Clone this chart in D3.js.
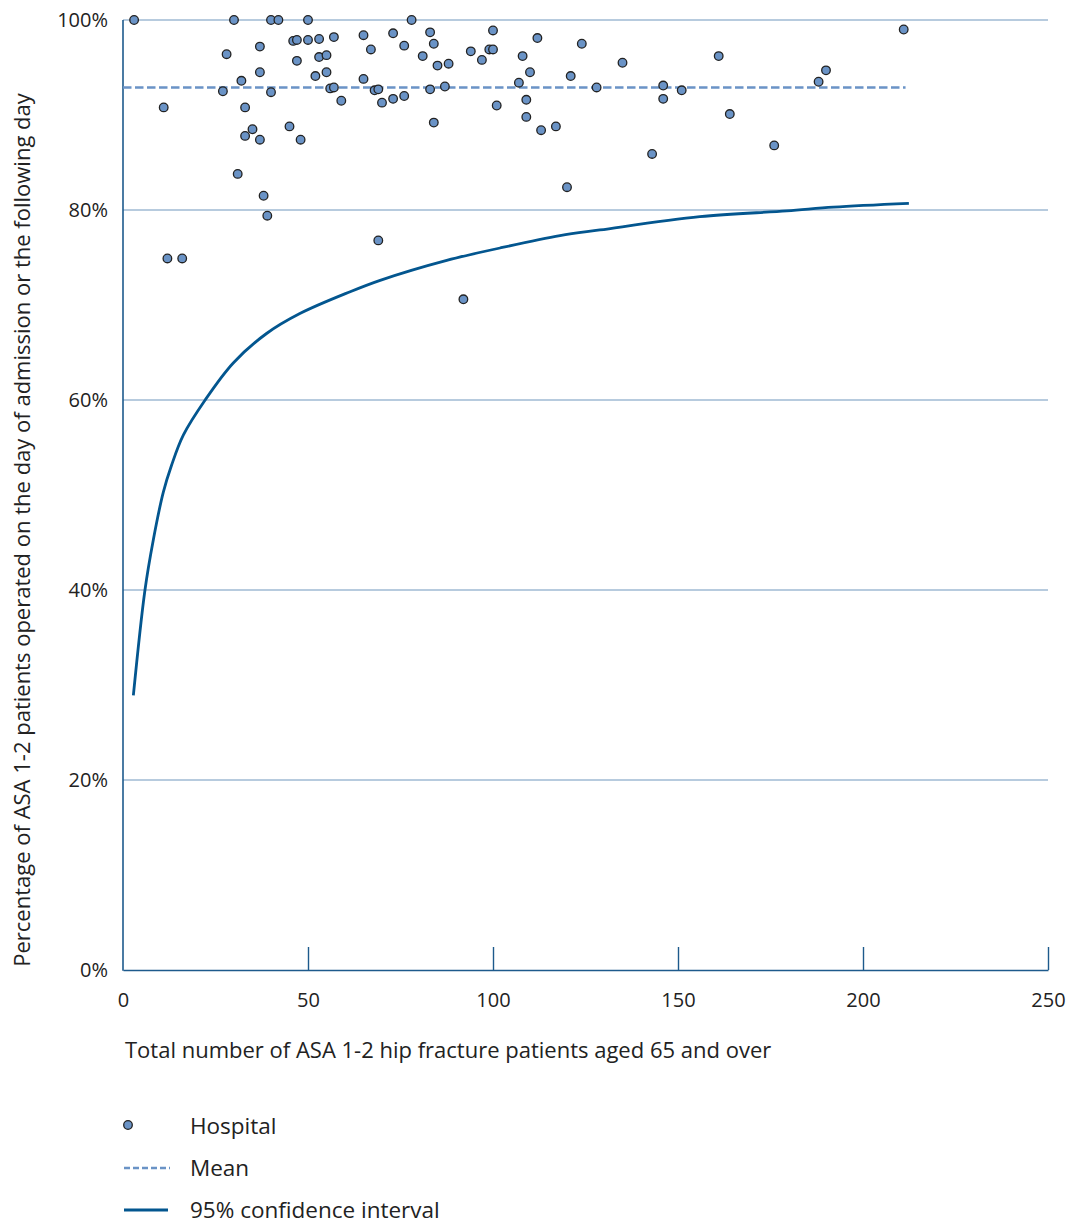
<!DOCTYPE html>
<html>
<head>
<meta charset="utf-8">
<script src="https://cdn.jsdelivr.net/npm/d3@7"></script>
<style>
  html, body { margin: 0; padding: 0; background: #fff; }
  svg { display: block; }
  text { font-family: "Open Sans", "Noto Sans", sans-serif; fill: #222; }
</style>
</head>
<body>
<svg id="chart" width="1074" height="1225"></svg>
<script>
// ---- data ----
const hospitalN = [3,30,40,42,50,78,46,47,50,53,57,37,28,47,53,55,37,32,52,55,27,40,56,57,59,11,33,35,45,33,37,48,31,38,39,12,16,
  65,73,83,100,67,76,84,81,94,99,100,112,124,97,108,85,88,110,121,65,107,68,69,83,87,70,73,76,101,109,109,84,113,117,120,69,92,
  128,135,146,146,151,143,161,164,176,188,190,211];
const hospitalPct = [100,100,100,100,100,100,97.8,97.9,97.9,98.0,98.2,97.2,96.4,95.7,96.1,96.3,94.5,93.6,94.1,94.5,92.5,92.4,92.8,92.9,91.5,90.8,90.8,88.5,88.8,87.8,87.4,87.4,83.8,81.5,79.4,74.9,74.9,
  98.4,98.6,98.7,98.9,96.9,97.3,97.5,96.2,96.7,96.9,96.9,98.1,97.5,95.8,96.2,95.2,95.4,94.5,94.1,93.8,93.4,92.6,92.7,92.7,93.0,91.3,91.7,92.0,91.0,91.6,89.8,89.2,88.4,88.8,82.4,76.8,70.6,
  92.9,95.5,93.1,91.7,92.6,85.9,96.2,90.1,86.8,93.5,94.7,99.0];
const ciN   = [2.8,5.9,8.2,10.9,13.1,16.3,22.2,29.8,38.8,47.8,61.4,69.5,87.5,101.9,118.1,128.9,155.9,179.4,192,212.4];
const ciPct = [28.9,39.9,45.3,50.3,53.1,56.3,60.0,63.9,67.0,69.1,71.4,72.6,74.7,76.0,77.3,77.9,79.3,79.9,80.3,80.7];
const meanPct = 92.9;
const meanRange = [0, 211.5];
const xTicks = [0,50,100,150,200,250];
const yTicks = [0,20,40,60,80,100];
const xTitle = "Total number of ASA 1-2 hip fracture patients aged 65 and over";
const yTitle = "Percentage of ASA 1-2 patients operated on the day of admission or the following day";
const legendLabels = ["Hospital", "Mean", "95% confidence interval"];

(function () {
  const svg = d3.select("#chart");
  const pL = 123, pR = 1048, pT = 20, pB = 970;
  const x = d3.scaleLinear().domain([0,250]).range([pL,pR]);
  const y = d3.scaleLinear().domain([0,100]).range([pB,pT]);

  const gridColor = "#7098bd", axisColor = "#1d5a8c";
  const dotFill = "#6a93c6", meanColor = "#6a93c6", ciColor = "#03568f";
  const font = '"Open Sans", sans-serif';

  // gridlines
  svg.append("g").selectAll("line").data(yTicks.filter(d => d > 0)).join("line")
    .attr("x1", pL).attr("x2", pR)
    .attr("y1", d => y(d)).attr("y2", d => y(d))
    .attr("stroke", gridColor).attr("stroke-width", 1.2);

  // y axis labels
  const yAxis = d3.axisLeft(y).tickValues(yTicks).tickFormat(d => d + "%").tickSize(0).tickPadding(15);
  const gy = svg.append("g").attr("transform", `translate(${pL},0)`).call(yAxis);
  gy.select(".domain").remove();
  gy.selectAll("text").style("font-family", font).style("font-size", "20px").attr("fill", "#222");

  // x axis
  const xAxis = d3.axisTop(x).tickValues(xTicks).tickFormat(d3.format("d")).tickSize(23).tickSizeOuter(0);
  const gx = svg.append("g").attr("transform", `translate(0,${pB})`).call(xAxis);
  gx.select(".domain").attr("stroke", axisColor).attr("stroke-width", 1.6);
  gx.selectAll(".tick line").attr("stroke", axisColor).attr("stroke-width", 1.4);
  gx.selectAll(".tick").filter(d => d === 0).select("line").remove();
  gx.selectAll("text").attr("y", 37).attr("dy", 0).style("font-family", font).style("font-size", "20px").attr("fill", "#222");

  // left axis line
  svg.append("line").attr("x1", pL).attr("x2", pL).attr("y1", pT).attr("y2", pB + 0.8)
    .attr("stroke", axisColor).attr("stroke-width", 1.6);

  // mean line
  svg.append("line")
    .attr("x1", x(meanRange[0])).attr("x2", x(meanRange[1]))
    .attr("y1", y(meanPct)).attr("y2", y(meanPct))
    .attr("stroke", meanColor).attr("stroke-width", 2.6).attr("stroke-dasharray", "8.5,3.5");

  // CI curve
  const ciData = ciN.map((n, i) => [n, ciPct[i]]);
  svg.append("path").datum(ciData)
    .attr("d", d3.line().x(d => x(d[0])).y(d => y(d[1])).curve(d3.curveCatmullRom.alpha(0.5)))
    .attr("fill", "none").attr("stroke", ciColor).attr("stroke-width", 2.8);

  // hospitals
  const pts = hospitalN.map((n, i) => [n, hospitalPct[i]]);
  svg.append("g").selectAll("circle").data(pts).join("circle")
    .attr("cx", d => x(d[0])).attr("cy", d => y(d[1])).attr("r", 4.3)
    .attr("fill", dotFill).attr("stroke", "#222").attr("stroke-width", 1.3);

  // titles
  svg.append("text").attr("x", 125).attr("y", 1058).style("font-size", "22px").text(xTitle);
  svg.append("text").attr("transform", `translate(30,530) rotate(-90)`)
    .attr("text-anchor", "middle").style("font-size", "22px").text(yTitle);

  // legend
  const lg = svg.append("g");
  lg.append("circle").attr("cx", 128).attr("cy", 1125).attr("r", 4.3)
    .attr("fill", dotFill).attr("stroke", "#222").attr("stroke-width", 1.3);
  lg.append("line").attr("x1", 124).attr("x2", 170).attr("y1", 1168).attr("y2", 1168)
    .attr("stroke", meanColor).attr("stroke-width", 2.4).attr("stroke-dasharray", "6,3");
  lg.append("line").attr("x1", 124).attr("x2", 168).attr("y1", 1210).attr("y2", 1210)
    .attr("stroke", ciColor).attr("stroke-width", 2.8);
  lg.selectAll("text").data(legendLabels).join("text")
    .attr("x", 190).attr("y", (d, i) => 1134 + i * 42)
    .style("font-size", "22.5px").text(d => d);
})();
</script>
</body>
</html>
